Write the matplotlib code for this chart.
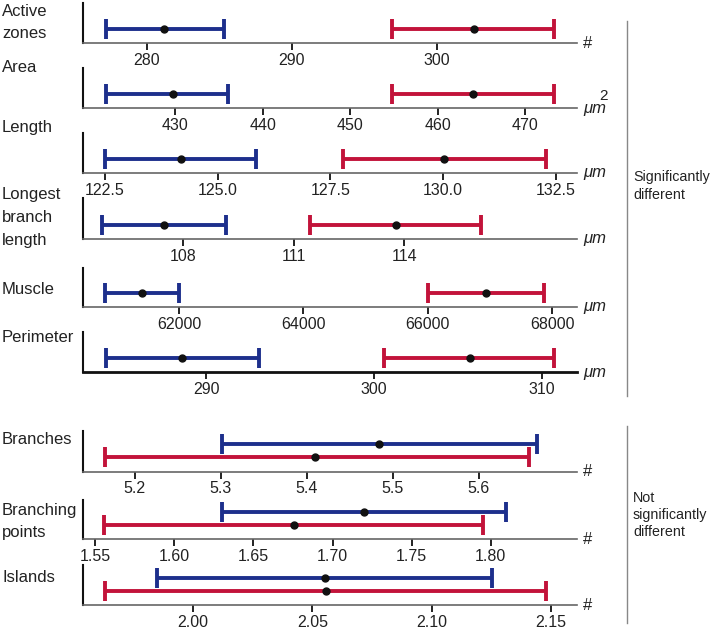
import matplotlib.pyplot as plt

plt.rcParams['font.family'] = ['Liberation Sans', 'DejaVu Sans']

# row names and units
names = ['Active\nzones', 'Area', 'Length', 'Longest\nbranch\nlength', 'Muscle',
         'Perimeter', 'Branches', 'Branching\npoints', 'Islands']
units = ['#', 'μm', 'μm', 'μm', 'μm', 'μm', '#', '#', '#']

# blue group: low, mean, high
blue_low = [277.17, 422.1, 122.5, 105.78, 60809, 284.0, 5.302, 1.630, 1.9847]
blue_mean = [281.19, 429.74, 124.18, 107.48, 61407, 288.55, 5.484, 1.720, 2.0551]
blue_high = [285.30, 436.05, 125.84, 109.15, 62000, 293.15, 5.667, 1.8097, 2.1251]

# red group: low, mean, high
red_low = [296.87, 454.74, 127.77, 111.45, 66012, 300.57, 5.166, 1.5553, 1.9630]
red_mean = [302.57, 464.08, 130.02, 113.77, 66938, 305.7, 5.410, 1.6755, 2.0556]
red_high = [308.08, 473.29, 132.29, 116.08, 67877, 310.74, 5.658, 1.795, 2.1479]

# axis ranges and ticks
xmins = [275.58, 419.47, 122.01, 105.27, 60457, 282.64, 5.140, 1.5422, 1.9539]
xmaxs = [309.67, 475.92, 132.97, 118.70, 68401, 312.11, 5.714, 1.8546, 2.1608]
ticks = [[280, 290, 300],
         [430, 440, 450, 460, 470],
         [122.5, 125.0, 127.5, 130.0, 132.5],
         [108, 111, 114],
         [62000, 64000, 66000, 68000],
         [290, 300, 310],
         [5.2, 5.3, 5.4, 5.5, 5.6],
         [1.55, 1.60, 1.65, 1.70, 1.75, 1.80],
         [2.00, 2.05, 2.10, 2.15]]
tick_labels = [['280', '290', '300'],
               ['430', '440', '450', '460', '470'],
               ['122.5', '125.0', '127.5', '130.0', '132.5'],
               ['108', '111', '114'],
               ['62000', '64000', '66000', '68000'],
               ['290', '300', '310'],
               ['5.2', '5.3', '5.4', '5.5', '5.6'],
               ['1.55', '1.60', '1.65', '1.70', '1.75', '1.80'],
               ['2.00', '2.05', '2.10', '2.15']]

BLUE = '#1D2F8C'
RED = '#C2133A'
W, H = 713, 631

# panel top / bottom in pixels
tops = [3, 68, 133, 198, 268, 332, 431, 500, 565]
bottoms = [43, 108, 173, 239, 307, 372, 471.5, 539, 605]
label_y = [[12, 33], [68], [127], [195, 218, 240], [290], [338], [440], [511, 532], [577]]

fig = plt.figure(figsize=(W / 100, H / 100), dpi=100)

for i in range(9):
    ax = fig.add_axes([83 / W, 1 - bottoms[i] / H, (577 - 83) / W, (bottoms[i] - tops[i]) / H])
    both = i >= 6
    yb = 0.68 if both else 0.35
    yr = 0.35
    ax.errorbar([blue_mean[i]], [yb],
                xerr=[[blue_mean[i] - blue_low[i]], [blue_high[i] - blue_mean[i]]],
                fmt='none', ecolor=BLUE, elinewidth=2.8, capsize=7, capthick=2.8)
    ax.errorbar([red_mean[i]], [yr],
                xerr=[[red_mean[i] - red_low[i]], [red_high[i] - red_mean[i]]],
                fmt='none', ecolor=RED, elinewidth=2.8, capsize=7, capthick=2.8)
    ax.plot([blue_mean[i], red_mean[i]], [yb, yr], 'o', color='#111111', ms=5, zorder=5)
    ax.set_xlim(xmins[i], xmaxs[i])
    ax.set_ylim(0, 1)
    ax.set_yticks([])
    ax.set_xticks(ticks[i])
    ax.set_xticklabels(tick_labels[i], fontsize=11.5, color='#222222')
    ax.tick_params(axis='x', length=5, width=1.3, color='#111111', pad=2)
    ax.spines['top'].set_visible(False)
    ax.spines['right'].set_visible(False)
    ax.spines['left'].set_linewidth(1.5)
    ax.spines['left'].set_color('#111111')
    if i == 5:
        ax.spines['bottom'].set_linewidth(2)
        ax.spines['bottom'].set_color('#111111')
    else:
        ax.spines['bottom'].set_linewidth(1.2)
        ax.spines['bottom'].set_color('#666666')
    ax.patch.set_alpha(0)

    # row label
    for txt, ly in zip(names[i].split('\n'), label_y[i]):
        fig.text(2 / W, 1 - ly / H, txt, fontsize=12, va='center', ha='left', color='#222222')
    # unit label
    style = 'italic' if units[i] != '#' else 'normal'
    fig.text(583 / W, 1 - bottoms[i] / H, units[i], fontsize=12, va='center', ha='left',
             style=style, color='#222222')

# superscript for the area unit
fig.text(599 / W, 1 - 96 / H, '2', fontsize=11, va='center', ha='left', color='#222222')

# group brackets
fig.add_artist(plt.Line2D([627 / W, 627 / W], [1 - 21 / H, 1 - 396 / H], color='#888888', lw=1))
fig.add_artist(plt.Line2D([627 / W, 627 / W], [1 - 426 / H, 1 - 623 / H], color='#888888', lw=1))
fig.text(633 / W, 1 - 186 / H, 'Significantly\ndifferent', fontsize=10.3, va='center', ha='left',
         color='#222222', linespacing=1.3)
fig.text(633 / W, 1 - 515 / H, 'Not\nsignificantly\ndifferent', fontsize=10.3, va='center', ha='left',
         color='#222222', linespacing=1.3)

fig.savefig('out.png', dpi=100)
